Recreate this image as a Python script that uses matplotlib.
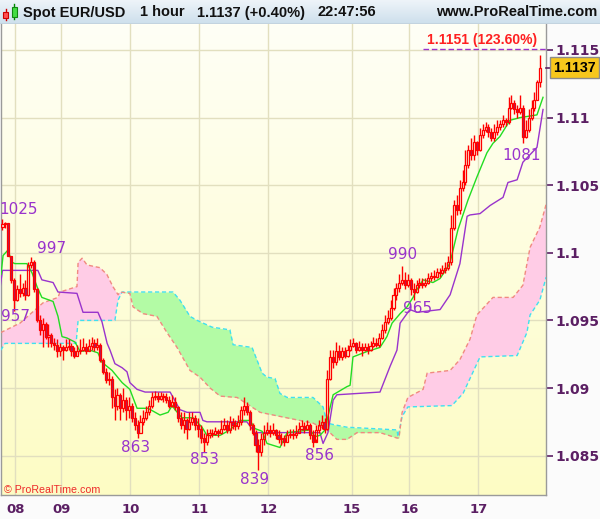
import numpy as np
import matplotlib
matplotlib.use("Agg")
import matplotlib.pyplot as plt
from matplotlib.colors import LinearSegmentedColormap
from matplotlib.patches import Rectangle
import matplotlib.transforms as mtransforms

# ---------------- data ----------------
open0 = 1.1019
closes = [1.1021, 1.1022, 1.0998, 1.0980, 1.0965, 1.0973, 1.0970, 1.0974, 1.0969, 1.0991,
          1.0993, 1.0973, 1.0950, 1.0943, 1.0947, 1.0938, 1.0939, 1.0933, 1.0932, 1.0927,
          1.0930, 1.0928, 1.0930, 1.0931, 1.0927, 1.0924, 1.0927, 1.0928, 1.0930, 1.0927,
          1.0931, 1.0933, 1.0930, 1.0932, 1.0921, 1.0912, 1.0906, 1.0907, 1.0893, 1.0887,
          1.0895, 1.0885, 1.0891, 1.0884, 1.0887, 1.0878, 1.0873, 1.0867, 1.0875, 1.0878,
          1.0882, 1.0887, 1.0893, 1.0894, 1.0892, 1.0894, 1.0893, 1.0891, 1.0887, 1.0890,
          1.0886, 1.0878, 1.0873, 1.0876, 1.0870, 1.0875, 1.0878, 1.0873, 1.0870, 1.0863,
          1.0860, 1.0865, 1.0867, 1.0866, 1.0868, 1.0867, 1.0870, 1.0873, 1.0869, 1.0875,
          1.0873, 1.0872, 1.0875, 1.0884, 1.0887, 1.0882, 1.0873, 1.0867, 1.0858, 1.0853,
          1.0862, 1.0867, 1.0869, 1.0867, 1.0869, 1.0865, 1.0862, 1.0863, 1.0860, 1.0865,
          1.0866, 1.0865, 1.0867, 1.0870, 1.0872, 1.0870, 1.0873, 1.0865, 1.0860, 1.0869,
          1.0873, 1.0875, 1.0870, 1.0907, 1.0923, 1.0919, 1.0927, 1.0923, 1.0927, 1.0924,
          1.0928, 1.0931, 1.0933, 1.0928, 1.0930, 1.0928, 1.0930, 1.0928, 1.0931, 1.0933,
          1.0932, 1.0937, 1.0943, 1.0949, 1.0952, 1.0959, 1.0969, 1.0974, 1.0978, 1.0980,
          1.0976, 1.0980, 1.0973, 1.0971, 1.0976, 1.0978, 1.0976, 1.0978, 1.0981, 1.0983,
          1.0982, 1.0986, 1.0985, 1.0987, 1.0989, 1.0993, 1.1018, 1.1035, 1.1032, 1.1048,
          1.1052, 1.1065, 1.1076, 1.1072, 1.1082, 1.1076, 1.1087, 1.1091, 1.1093, 1.1089,
          1.1085, 1.1089, 1.1093, 1.1095, 1.1098, 1.1097, 1.1107, 1.1111, 1.1106, 1.1104,
          1.1107, 1.1086, 1.1091, 1.1100, 1.1107, 1.1113, 1.1126, 1.1137]
highs = [1.1025, 1.1023, 1.1021, 1.0998, 1.0981, 1.0976, 1.0984, 1.0978, 1.0980, 1.0993,
         1.0997, 1.0995, 1.0974, 1.0954, 1.0952, 1.0949, 1.0947, 1.0941, 1.0937, 1.0936,
         1.0933, 1.0932, 1.0936, 1.0936, 1.0933, 1.0930, 1.0932, 1.0936, 1.0937, 1.0933,
         1.0936, 1.0938, 1.0936, 1.0937, 1.0933, 1.0922, 1.0915, 1.0912, 1.0909, 1.0899,
         1.0900, 1.0896, 1.0900, 1.0893, 1.0893, 1.0889, 1.0882, 1.0876, 1.0880, 1.0884,
         1.0887, 1.0891, 1.0897, 1.0898, 1.0897, 1.0897, 1.0896, 1.0896, 1.0894, 1.0895,
         1.0893, 1.0887, 1.0882, 1.0882, 1.0878, 1.0882, 1.0882, 1.0880, 1.0878, 1.0873,
         1.0867, 1.0870, 1.0870, 1.0870, 1.0871, 1.0870, 1.0876, 1.0878, 1.0876, 1.0879,
         1.0878, 1.0876, 1.0880, 1.0887, 1.0893, 1.0890, 1.0884, 1.0874, 1.0869, 1.0862,
         1.0867, 1.0873, 1.0875, 1.0873, 1.0874, 1.0870, 1.0869, 1.0867, 1.0865, 1.0869,
         1.0870, 1.0870, 1.0873, 1.0875, 1.0876, 1.0875, 1.0876, 1.0874, 1.0869, 1.0873,
         1.0876, 1.0880, 1.0878, 1.0913, 1.0928, 1.0928, 1.0934, 1.0932, 1.0930, 1.0930,
         1.0932, 1.0936, 1.0937, 1.0934, 1.0935, 1.0933, 1.0933, 1.0933, 1.0935, 1.0938,
         1.0937, 1.0941, 1.0947, 1.0954, 1.0958, 1.0965, 1.0974, 1.0978, 1.0984, 1.0990,
         1.0986, 1.0984, 1.0981, 1.0978, 1.0980, 1.0981, 1.0981, 1.0981, 1.0985, 1.0986,
         1.0987, 1.0989, 1.0989, 1.0991, 1.0993, 1.0998, 1.1028, 1.1039, 1.1043, 1.1054,
         1.1061, 1.1076, 1.1080, 1.1085, 1.1087, 1.1083, 1.1092, 1.1095, 1.1097, 1.1095,
         1.1092, 1.1095, 1.1098, 1.1098, 1.1102, 1.1100, 1.1115, 1.1117, 1.1113, 1.1109,
         1.1117, 1.1109, 1.1098, 1.1106, 1.1113, 1.1119, 1.1128, 1.1146]
lows = [1.1017, 1.1018, 1.0998, 1.0978, 1.0957, 1.0964, 1.0967, 1.0968, 1.0965, 1.0968,
        1.0989, 1.0971, 1.0949, 1.0939, 1.0930, 1.0936, 1.0930, 1.0930, 1.0928, 1.0923,
        1.0924, 1.0921, 1.0927, 1.0928, 1.0924, 1.0922, 1.0924, 1.0925, 1.0927, 1.0925,
        1.0927, 1.0928, 1.0927, 1.0928, 1.0919, 1.0910, 1.0904, 1.0902, 1.0885, 1.0876,
        1.0884, 1.0876, 1.0882, 1.0876, 1.0878, 1.0875, 1.0869, 1.0863, 1.0867, 1.0873,
        1.0876, 1.0880, 1.0885, 1.0891, 1.0890, 1.0891, 1.0890, 1.0889, 1.0885, 1.0886,
        1.0884, 1.0875, 1.0870, 1.0867, 1.0862, 1.0869, 1.0873, 1.0869, 1.0864, 1.0859,
        1.0853, 1.0858, 1.0863, 1.0864, 1.0865, 1.0864, 1.0866, 1.0869, 1.0867, 1.0867,
        1.0870, 1.0869, 1.0870, 1.0873, 1.0880, 1.0880, 1.0869, 1.0865, 1.0853, 1.0839,
        1.0850, 1.0858, 1.0865, 1.0864, 1.0865, 1.0862, 1.0859, 1.0858, 1.0857, 1.0860,
        1.0863, 1.0862, 1.0863, 1.0867, 1.0869, 1.0867, 1.0869, 1.0862, 1.0856, 1.0862,
        1.0867, 1.0870, 1.0867, 1.0869, 1.0906, 1.0915, 1.0917, 1.0921, 1.0921, 1.0922,
        1.0923, 1.0927, 1.0930, 1.0926, 1.0927, 1.0924, 1.0927, 1.0925, 1.0927, 1.0930,
        1.0930, 1.0930, 1.0936, 1.0941, 1.0947, 1.0950, 1.0958, 1.0965, 1.0971, 1.0976,
        1.0973, 1.0975, 1.0969, 1.0965, 1.0970, 1.0974, 1.0974, 1.0975, 1.0977, 1.0979,
        1.0980, 1.0981, 1.0982, 1.0984, 1.0985, 1.0987, 1.0991, 1.1017, 1.1028, 1.1029,
        1.1046, 1.1050, 1.1063, 1.1069, 1.1069, 1.1072, 1.1075, 1.1085, 1.1089, 1.1086,
        1.1083, 1.1083, 1.1087, 1.1091, 1.1093, 1.1094, 1.1095, 1.1106, 1.1103, 1.1100,
        1.1103, 1.1081, 1.1085, 1.1089, 1.1098, 1.1105, 1.1113, 1.1123]

# Tenkan-sen (green) and Kijun-sen (purple): bar index / price
tenkan_x = [-0.5, 0.2, 1.9, 3.3, 4.3, 8.5, 10.3, 12.0, 13.7, 17.6, 19.3, 20.7, 22.4, 25.2, 27.0,
            30.4, 33.2, 34.6, 38.1, 41.6, 44.3, 46.8, 50.6, 54.8, 57.6, 59.0, 60.0, 62.4, 66.3,
            69.4, 71.1, 75.7, 79.1, 82.6, 86.1, 87.8, 90.3, 92.0, 96.5, 99.0, 107.0, 108.7,
            110.4, 112.2, 113.2, 115.0, 119.8, 120.9, 121.9, 126.8, 131.3, 133.7, 135.5, 138.3,
            140.7, 142.8, 144.2, 146.3, 149.7, 152.2, 155.0, 155.7, 158.4, 161.9, 165.0, 168.5,
            170.6, 173.0, 176.5, 180.0, 185.9, 188.0]
tenkan_y = [1.0984, 1.0998, 1.1002, 1.0993, 1.0992, 1.0992, 1.0985, 1.0975, 1.0967, 1.0964,
            1.0953, 1.0938, 1.0937, 1.0934, 1.0927, 1.0928, 1.0926, 1.0919, 1.0913, 1.0904,
            1.0899, 1.0885, 1.0885, 1.0880, 1.0882, 1.0887, 1.0884, 1.0878, 1.0878, 1.0871,
            1.0865, 1.0865, 1.0869, 1.0876, 1.0876, 1.0870, 1.0868, 1.0859, 1.0856, 1.0867,
            1.0869, 1.0864, 1.0865, 1.0869, 1.0879, 1.0895, 1.0901, 1.0902, 1.0923, 1.0927,
            1.0930, 1.0938, 1.0948, 1.0955, 1.0960, 1.0967, 1.0973, 1.0980, 1.0978, 1.0981,
            1.0990, 1.0993, 1.1017, 1.1039, 1.1056, 1.1074, 1.1081, 1.1086, 1.1098, 1.1100,
            1.1102, 1.1115]
kijun_x = [-0.8, 0.0, 12.3, 13.7, 17.6, 19.3, 25.9, 28.0, 33.2, 34.6, 36.4, 37.4, 39.1, 41.6,
           43.3, 44.3, 46.8, 49.6, 58.3, 61.7, 64.2, 68.7, 69.7, 71.1, 85.0, 87.8, 110.4,
           111.5, 113.2, 115.0, 116.3, 131.3, 134.8, 137.2, 138.3, 140.0, 141.7, 144.2, 152.2,
           155.7, 159.1, 161.6, 162.6, 166.1, 169.6, 174.1, 175.8, 179.0, 181.0, 185.9, 188.0]
kijun_y = [1.0975, 1.0987, 1.0987, 1.0980, 1.0978, 1.0971, 1.0970, 1.0956, 1.0956, 1.0949,
           1.0933, 1.0928, 1.0918, 1.0915, 1.0912, 1.0904, 1.0899, 1.0897, 1.0897, 1.0884,
           1.0882, 1.0882, 1.0876, 1.0875, 1.0875, 1.0867, 1.0867, 1.0859, 1.0867, 1.0891,
           1.0895, 1.0897, 1.0916, 1.0928, 1.0948, 1.0953, 1.0958, 1.0956, 1.0958, 1.0969,
           1.0992, 1.1027, 1.1028, 1.1029, 1.1035, 1.1041, 1.1052, 1.1054, 1.1067, 1.1078,
           1.1106]

# Senkou span A (cyan) and B (salmon)
span_a_x = [-0.6, 0.9, 21.0, 25.6, 26.3, 39.1, 40.2, 41.6, 59.3, 61.7, 65.2, 67.7, 72.9, 79.1,
            80.2, 86.8, 90.3, 92.0, 94.8, 96.5, 99.0, 108.0, 111.5, 112.9, 115.0, 119.8, 137.2,
            137.6, 139.0, 141.0, 156.3, 160.2, 166.1, 179.0, 182.4, 183.5, 186.9, 189.1]
span_a_y = [1.0928, 1.0933, 1.0933, 1.0933, 1.0950, 1.0950, 1.0965, 1.0971, 1.0971, 1.0965,
            1.0953, 1.0950, 1.0945, 1.0943, 1.0932, 1.0930, 1.0911, 1.0908, 1.0907, 1.0896,
            1.0893, 1.0893, 1.0886, 1.0874, 1.0873, 1.0871, 1.0869, 1.0864, 1.0879, 1.0886,
            1.0887, 1.0896, 1.0923, 1.0924, 1.0941, 1.0954, 1.0965, 1.0982]
span_b_x = [-0.6, 6.1, 14.1, 19.3, 20.0, 25.9, 26.3, 27.7, 29.4, 33.9, 36.3, 38.4, 40.2, 40.9,
            44.3, 45.4, 48.9, 53.7, 57.2, 60.7, 65.2, 68.7, 72.2, 75.7, 81.6, 89.6, 96.5, 108.0,
            112.9, 116.3, 119.8, 123.3, 131.3, 137.2, 137.9, 139.0, 141.0, 146.3, 147.7, 155.7,
            159.1, 162.6, 165.0, 170.6, 177.6, 181.0, 183.5, 186.9, 189.1]
span_b_y = [1.0941, 1.0948, 1.0963, 1.0967, 1.0971, 1.0975, 1.0993, 1.0996, 1.0991, 1.0989,
            1.0984, 1.0975, 1.0969, 1.0971, 1.0970, 1.0960, 1.0955, 1.0953, 1.0941, 1.0930,
            1.0913, 1.0908, 1.0900, 1.0894, 1.0893, 1.0882, 1.0879, 1.0874, 1.0869, 1.0862,
            1.0862, 1.0867, 1.0867, 1.0863, 1.0863, 1.0882, 1.0893, 1.0899, 1.0911, 1.0913,
            1.0921, 1.0936, 1.0954, 1.0967, 1.0967, 1.0976, 1.1004, 1.1019, 1.1036]

day_ticks = [4.5, 20.5, 44.5, 68.5, 92.5, 121.5, 141.5, 165.5]
day_labels = ['08', '09', '10', '11', '12', '15', '16', '17']
price_ticks = [1.085, 1.09, 1.095, 1.1, 1.105, 1.11, 1.115]
price_labels = ['1.085', '1.09', '1.095', '1.1', '1.105', '1.11', '1.115']

pivot_texts = ['1025', '997', '957', '863', '853', '839', '856', '990', '965', '1081']
pivot_x = [5.6, 17.0, 4.4, 46.4, 70.4, 87.5, 110.4, 139.0, 144.5, 180.7]
pivot_y = [1.1032, 1.1003, 1.0953, 1.0856, 1.0847, 1.0832, 1.0850, 1.0999, 1.0959, 1.1072]

fib_level = 1.1151
fib_text = '1.1151 (123.60%)'
last_price = 1.1137

# ---------------- figure ----------------
W, H = 600, 519
fig = plt.figure(figsize=(W / 100, H / 100), dpi=100)
fig.patch.set_facecolor('#fbfbfb')

ax = fig.add_axes([1 / W, 24 / H, 545 / W, 471 / H])
xmin, xmax = -0.52, 189.04
ymin, ymax = 1.082086, 1.116923
ax.set_xlim(xmin, xmax)
ax.set_ylim(ymin, ymax)

# background gradient
bg = LinearSegmentedColormap.from_list('bg', ['#fdfcc4', '#fffff6'])
grad = np.linspace(0, 1, 256).reshape(-1, 1)
ax.imshow(grad, cmap=bg, aspect='auto', origin='lower',
          extent=[xmin, xmax, ymin, ymax], zorder=0)

# grid
for t in price_ticks:
    ax.axhline(t, color='#e2dfbf', lw=1.0, zorder=1)
for t in day_ticks:
    ax.axvline(t, color='#e2dfbf', lw=1.0, zorder=1)

# cloud
gx = np.linspace(xmin, xmax, 3000)
ga = np.interp(gx, span_a_x, span_a_y)
gb = np.interp(gx, span_b_x, span_b_y)
ax.fill_between(gx, ga, gb, where=ga >= gb, interpolate=True,
                color='#b3fba5', lw=0, zorder=2)
ax.fill_between(gx, ga, gb, where=ga < gb, interpolate=True,
                color='#ffcce6', lw=0, zorder=2)
ax.plot(span_a_x, span_a_y, color='#3fe0f0', lw=1.0, ls=(0, (3, 2)), zorder=3)
ax.plot(span_b_x, span_b_y, color='#f08a80', lw=1.0, ls=(0, (3, 2)), zorder=3)

# indicator lines
ax.plot(kijun_x, kijun_y, color='#9933cc', lw=1.0, zorder=4)
ax.plot(tenkan_x, tenkan_y, color='#22dd22', lw=1.0, zorder=4)

# candles
closes_a = np.array(closes)
opens_a = np.concatenate([[open0], closes_a[:-1]])
highs_a = np.array(highs)
lows_a = np.array(lows)
idx = np.arange(len(closes_a))
body_lo = np.minimum(opens_a, closes_a)
body_hi = np.maximum(opens_a, closes_a)
heights = np.maximum(body_hi - body_lo, 0.00004)
up = closes_a >= opens_a

ax.vlines(idx, lows_a, body_lo, color='#ff0000', lw=1.0, zorder=5)
ax.vlines(idx, body_hi, np.maximum(highs_a, body_hi), color='#ff0000', lw=1.0, zorder=5)
ax.bar(idx[up], heights[up], bottom=body_lo[up], width=0.7, facecolor='none',
       edgecolor='#ff0000', lw=0.9, zorder=6)
ax.bar(idx[~up], heights[~up], bottom=body_lo[~up], width=0.7, facecolor='#a8205e',
       edgecolor='#ff0000', lw=0.9, zorder=6)

# fib level
ax.hlines(fib_level, 146.3, xmax, colors='#9933cc', lw=1.0, linestyles=(0, (4, 2)), zorder=6)
ax.text(186.0, fib_level + 0.00012, fib_text, color='#ff2020', fontsize=10,
        fontweight='bold', family='Liberation Sans', ha='right', va='bottom', zorder=7)

# pivot labels
for t, px, py in zip(pivot_texts, pivot_x, pivot_y):
    ax.text(px, py, t, color='#9933cc', fontsize=11, family='DejaVu Sans',
            ha='center', va='center', zorder=7)

# copyright
ax.text(0.006, 0.0, '\u00a9 ProRealTime.com', transform=ax.transAxes, color='#ee2a2a',
        fontsize=7.7, family='Liberation Sans', ha='left', va='bottom', zorder=7)

# axes styling
ax.spines['top'].set_visible(False)
for s in ['left', 'right', 'bottom']:
    ax.spines[s].set_color('#9a9a9a')
    ax.spines[s].set_linewidth(1.0)

ax.yaxis.tick_right()
ax.set_yticks(price_ticks)
ax.set_yticklabels(price_labels)
ax.tick_params(axis='y', direction='out', length=5, width=1.2, color='#5b1f63',
               pad=2, labelsize=10, labelcolor='#5b1f63')
for lab in ax.get_yticklabels():
    lab.set_fontweight('bold')
    lab.set_family('DejaVu Sans')

ax.set_xticks(day_ticks)
ax.set_xticklabels(day_labels)
ax.tick_params(axis='x', length=0, pad=6, labelsize=9.5, labelcolor='#5b1f63')
for lab in ax.get_xticklabels():
    lab.set_fontweight('bold')
    lab.set_family('DejaVu Sans')

# last price box
trans = mtransforms.blended_transform_factory(ax.transAxes, ax.transData)
ax.plot([1.0, 1.009], [last_price, last_price], color='#5b1f63', lw=1.2,
        transform=trans, clip_on=False, zorder=8)
ax.text(1.0525, last_price, '1.1137', transform=trans, ha='center', va='center',
        fontsize=10.3, fontweight='bold', family='Liberation Sans', color='black',
        bbox=dict(boxstyle='square,pad=0.22', facecolor='#f7c71c', edgecolor='#8c8c8c', lw=1.0),
        clip_on=False, zorder=9)

# ---------------- title bar ----------------
tb = fig.add_axes([0, (H - 24) / H, 1, 24 / H])
tb.set_xlim(0, W)
tb.set_ylim(24, 0)
tb.axis('off')
tgrad = LinearSegmentedColormap.from_list('tb', ['#eef4f9', '#cddfec'])
tb.imshow(np.linspace(0, 1, 64).reshape(-1, 1), cmap=tgrad, aspect='auto',
          extent=[0, W, 24, 0], zorder=0)
tb.plot([0, W], [23.5, 23.5], color='#9aa4ae', lw=1.0, zorder=1)
# small candle icon
tb.plot([5.5, 5.5], [9, 20], color='#cc0000', lw=1, zorder=2)
tb.add_patch(Rectangle((3, 12), 5, 6, facecolor='#ff5050', edgecolor='#cc0000', lw=0.8, zorder=3))
tb.plot([14, 14], [4, 19], color='#008800', lw=1, zorder=2)
tb.add_patch(Rectangle((11.5, 7), 5, 10, facecolor='#44dd44', edgecolor='#118811', lw=0.8, zorder=3))

tkw = dict(fontsize=10.5, fontweight='bold', family='Liberation Sans', color='#111111',
           va='center', zorder=4)
tb.text(23, 12.5, 'Spot EUR/USD', ha='left', **tkw)
tb.text(140, 12.5, '1 hour', ha='left', **tkw)
tb.text(197, 12.5, '1.1137 (+0.40%)', ha='left', **tkw)
tb.text(317, 12.5, '22:47:56', ha='left', **tkw)
tb.text(597, 12.5, 'www.ProRealTime.com', ha='right', **tkw)

fig.savefig('out.png', dpi=100, facecolor=fig.get_facecolor())
